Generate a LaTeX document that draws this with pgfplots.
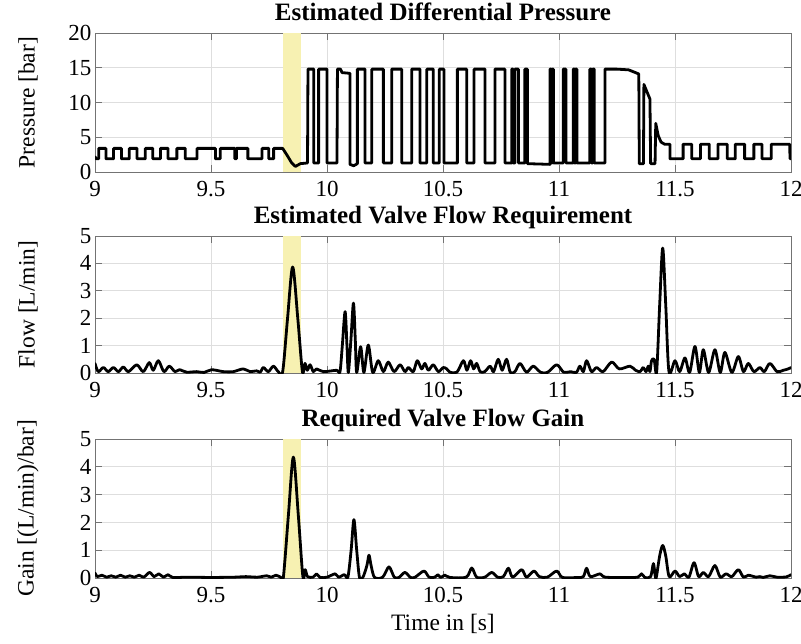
\documentclass[border=0pt]{standalone}
\usepackage{fontspec}
\setmainfont{Liberation Serif}
\usepackage{pgfplots}
\pgfplotsset{compat=1.18}
\definecolor{band}{RGB}{247,241,178}

\pgfplotsset{
  matax/.style={
    scale only axis, width=696pt,
    xmin=9, xmax=12,
    xtick={9,9.5,10,10.5,11,11.5,12},
    grid=major,
    major grid style={black!13, line width=0.8pt},
    axis line style={black!55, line width=0.9pt},
    tick style={black!55, line width=0.8pt},
    tick align=inside, major tick length=7pt,
    /pgf/number format/assume math mode=true,
    ticklabel style={font=\fontsize{23}{26}\selectfont},
    xticklabel style={yshift=-6pt},
    title style={font=\bfseries\fontsize{25}{28}\selectfont, at={(0.5,1)}, anchor=base, yshift=6.5pt},
    every axis y label/.style={at={(rel axis cs:0,0.5)}, xshift=-67pt, rotate=90, anchor=center,
      font=\fontsize{23.5}{26}\selectfont},
    every axis x label/.style={at={(rel axis cs:0.5,0)}, anchor=base, yshift=-52pt,
      font=\fontsize{23.5}{26}\selectfont},
  },
  sig/.style={black, line width=2.8pt, line join=round, line cap=round},
}

\begin{document}
\begin{tikzpicture}
\path[use as bounding box] (0,0) rectangle (801pt,-643pt);

% --- pressure ---
\begin{axis}[matax, at={(95pt,-172pt)}, anchor=south west, height=139pt,
  ymin=0, ymax=20, ytick={0,5,10,15,20},
  title={Estimated Differential Pressure}, ylabel={Pressure [bar]}]
\addplot[draw=none, fill=band, forget plot] coordinates {(9.81,0) (9.81,20) (9.89,20) (9.89,0)} --cycle;
\addplot[sig] coordinates {
(9.000,2.2)(9.005,1.9)(9.016,1.9)(9.016,3.4)(9.047,3.4)(9.047,1.9)(9.080,1.9)(9.080,3.4)
(9.114,3.4)(9.114,1.9)(9.148,1.9)(9.148,3.4)(9.181,3.4)(9.181,1.9)(9.217,1.9)(9.217,3.4)
(9.249,3.4)(9.249,1.9)(9.282,1.9)(9.282,3.4)(9.315,3.4)(9.315,1.9)(9.353,1.9)(9.353,3.4)
(9.389,3.4)(9.389,1.9)(9.440,1.9)(9.440,3.4)(9.519,3.4)(9.519,1.9)(9.540,1.9)(9.540,3.4)
(9.603,3.4)(9.603,1.9)(9.610,1.9)(9.610,3.4)(9.659,3.4)(9.659,1.9)(9.720,1.9)(9.720,3.4)
(9.749,3.4)(9.749,1.9)(9.770,1.9)(9.770,3.4)(9.809,3.4)(9.830,2.3)(9.848,1.3)(9.864,0.8)
(9.885,1.2)(9.916,1.3)(9.918,14.8)(9.943,14.8)(9.943,1.3)(9.964,1.3)(9.964,14.8)(10.000,14.8)
(10.000,1.3)(10.043,1.3)(10.045,14.8)(10.058,14.8)(10.065,14.3)(10.099,14.2)(10.099,1.1)(10.115,0.9)
(10.131,1.2)(10.131,14.8)(10.164,14.8)(10.164,1.3)(10.193,1.3)(10.193,14.8)(10.243,14.8)(10.243,1.3)
(10.279,1.3)(10.279,14.8)(10.322,14.8)(10.322,1.3)(10.365,1.3)(10.365,14.8)(10.401,14.8)(10.401,1.3)
(10.430,1.3)(10.430,14.8)(10.458,14.8)(10.458,1.3)(10.484,1.3)(10.484,14.8)(10.504,14.8)(10.504,1.3)
(10.562,1.3)(10.562,14.8)(10.602,14.8)(10.602,1.3)(10.634,1.3)(10.634,14.8)(10.681,14.8)(10.681,1.3)
(10.724,1.3)(10.724,14.8)(10.767,14.8)(10.767,1.3)(10.796,1.3)(10.796,14.8)(10.802,14.8)(10.802,1.3)
(10.810,1.3)(10.810,14.8)(10.825,14.8)(10.825,1.3)(10.853,1.3)(10.853,14.8)(10.864,14.8)(10.864,1.2)
(10.961,1.1)(10.961,14.8)(10.967,14.8)(10.967,1.3)(10.971,1.3)(10.971,14.8)(10.976,14.8)(10.976,1.3)
(11.018,1.3)(11.018,14.8)(11.030,14.8)(11.030,1.3)(11.061,1.3)(11.061,14.8)(11.067,14.8)(11.067,1.3)
(11.071,1.3)(11.071,14.8)(11.077,14.8)(11.077,1.3)(11.133,1.3)(11.133,14.8)(11.140,14.8)(11.140,1.3)
(11.145,1.3)(11.145,14.8)(11.152,14.8)(11.152,1.3)(11.198,1.3)(11.198,14.8)(11.250,14.8)(11.300,14.7)
(11.330,14.3)(11.344,14.1)(11.346,1.2)(11.364,1.2)(11.366,12.6)(11.392,10.5)(11.395,1.2)(11.414,1.2)
(11.417,7.0)(11.428,5.2)(11.440,4.3)(11.455,4.0)(11.478,4.0)(11.478,1.9)(11.535,1.9)(11.535,4.0)
(11.572,4.0)(11.572,1.9)(11.610,1.9)(11.610,4.0)(11.648,4.0)(11.648,1.9)(11.685,1.9)(11.685,4.0)
(11.725,4.0)(11.725,1.9)(11.760,1.9)(11.760,4.0)(11.800,4.0)(11.800,1.9)(11.840,1.9)(11.840,4.0)
(11.875,4.0)(11.875,1.9)(11.915,1.9)(11.915,4.0)(11.994,4.0)(11.996,1.9)(12.000,1.9)
};
\end{axis}

% --- flow ---
\begin{axis}[matax, at={(95pt,-373pt)}, anchor=south west, height=137pt,
  ymin=0, ymax=5, ytick={0,1,2,3,4,5},
  title={Estimated Valve Flow Requirement}, ylabel={Flow [L/min]}]
\addplot[draw=none, fill=band, forget plot] coordinates {(9.81,0) (9.81,5) (9.89,5) (9.89,0)} --cycle;
\addplot[sig, smooth, tension=0.5] coordinates {
(9.000,0.35)(9.014,0.05)(9.036,0.20)(9.057,0.05)(9.079,0.20)(9.101,0.05)(9.122,0.22)(9.144,0.05)
(9.180,0.30)(9.208,0.05)(9.234,0.38)(9.251,0.10)(9.273,0.45)(9.297,0.05)(9.320,0.25)(9.345,0.05)
(9.364,0.12)(9.395,0.03)(9.438,0.05)(9.470,0.02)(9.503,0.12)(9.553,0.05)(9.596,0.05)(9.639,0.15)
(9.668,0.05)(9.697,0.08)(9.712,0.03)(9.726,0.20)(9.747,0.05)(9.769,0.25)(9.790,0.05)(9.809,0.05)
(9.830,2.00)(9.852,3.87)(9.874,2.00)(9.894,0.05)(9.905,0.35)(9.915,0.10)(9.927,0.30)(9.941,0.05)
(9.955,0.15)(9.984,0.05)(10.042,0.10)(10.056,0.05)(10.066,1.00)(10.078,2.24)(10.086,1.00)(10.092,0.02)
(10.103,1.20)(10.114,2.55)(10.122,1.20)(10.128,0.02)(10.145,0.96)(10.159,0.02)(10.178,1.02)(10.197,0.02)
(10.221,0.45)(10.243,0.05)(10.264,0.40)(10.289,0.05)(10.315,0.30)(10.336,0.05)(10.351,0.20)(10.372,0.05)
(10.389,0.45)(10.408,0.15)(10.422,0.35)(10.437,0.10)(10.458,0.30)(10.480,0.05)(10.501,0.20)(10.516,0.15)
(10.530,0.03)(10.560,0.03)(10.588,0.45)(10.603,0.10)(10.619,0.45)(10.632,0.15)(10.645,0.35)(10.660,0.05)
(10.680,0.05)(10.703,0.25)(10.718,0.05)(10.738,0.50)(10.755,0.10)(10.774,0.50)(10.790,0.02)(10.810,0.05)
(10.832,0.35)(10.860,0.03)(10.889,0.25)(10.920,0.03)(10.950,0.02)(10.990,0.30)(11.020,0.03)(11.050,0.05)
(11.075,0.02)(11.090,0.25)(11.105,0.05)(11.119,0.45)(11.140,0.05)(11.162,0.20)(11.190,0.05)(11.227,0.40)
(11.260,0.15)(11.306,0.25)(11.330,0.10)(11.350,0.05)(11.363,0.20)(11.375,0.05)(11.385,0.25)(11.392,0.05)
(11.399,0.45)(11.410,0.50)(11.421,0.05)(11.434,2.50)(11.447,4.56)(11.460,2.50)(11.474,0.05)(11.500,0.45)
(11.520,0.05)(11.543,0.55)(11.563,0.02)(11.586,0.97)(11.605,0.02)(11.622,0.85)(11.645,0.02)(11.672,0.85)
(11.695,0.02)(11.715,0.75)(11.745,0.02)(11.773,0.60)(11.795,0.05)(11.816,0.35)(11.840,0.05)(11.866,0.20)
(11.885,0.05)(11.909,0.35)(11.940,0.05)(11.967,0.10)(11.988,0.15)(12.000,0.20)
};
\end{axis}

% --- gain ---
\begin{axis}[matax, at={(95pt,-578pt)}, anchor=south west, height=139pt,
  ymin=0, ymax=5, ytick={0,1,2,3,4,5},
  title={Required Valve Flow Gain}, ylabel={Gain [(L/min)/bar]}, xlabel={Time in [s]}]
\addplot[draw=none, fill=band, forget plot] coordinates {(9.81,0) (9.81,5) (9.89,5) (9.89,0)} --cycle;
\addplot[sig, smooth, tension=0.5] coordinates {
(9.000,0.18)(9.010,0.05)(9.030,0.10)(9.050,0.03)(9.070,0.08)(9.090,0.03)(9.110,0.10)(9.130,0.03)
(9.150,0.08)(9.170,0.03)(9.190,0.10)(9.210,0.03)(9.235,0.20)(9.255,0.05)(9.275,0.15)(9.295,0.03)
(9.315,0.12)(9.335,0.02)(9.400,0.03)(9.500,0.02)(9.600,0.03)(9.650,0.05)(9.700,0.03)(9.740,0.08)
(9.760,0.03)(9.780,0.10)(9.800,0.03)(9.812,0.03)(9.834,2.30)(9.855,4.35)(9.876,2.30)(9.896,0.05)
(9.906,0.30)(9.916,0.05)(9.940,0.03)(9.955,0.15)(9.970,0.02)(10.000,0.03)(10.035,0.15)(10.050,0.03)
(10.075,0.12)(10.090,0.03)(10.104,1.00)(10.116,2.10)(10.128,1.00)(10.140,0.02)(10.155,0.03)(10.172,0.45)
(10.181,0.82)(10.190,0.45)(10.205,0.02)(10.240,0.03)(10.267,0.40)(10.290,0.03)(10.310,0.02)(10.336,0.20)
(10.360,0.02)(10.380,0.03)(10.418,0.25)(10.440,0.03)(10.465,0.03)(10.478,0.12)(10.490,0.02)(10.508,0.10)
(10.530,0.02)(10.600,0.03)(10.624,0.36)(10.645,0.03)(10.680,0.03)(10.710,0.20)(10.735,0.03)(10.760,0.05)
(10.782,0.35)(10.800,0.03)(10.839,0.30)(10.860,0.03)(10.892,0.25)(10.915,0.05)(10.950,0.03)(10.990,0.25)
(11.015,0.02)(11.080,0.02)(11.105,0.05)(11.119,0.35)(11.135,0.05)(11.177,0.15)(11.200,0.03)(11.300,0.02)
(11.340,0.03)(11.356,0.15)(11.370,0.02)(11.395,0.05)(11.407,0.52)(11.415,0.05)(11.420,0.05)(11.434,0.80)
(11.447,1.17)(11.460,0.80)(11.475,0.05)(11.500,0.25)(11.520,0.05)(11.540,0.15)(11.560,0.03)(11.582,0.55)
(11.602,0.05)(11.622,0.20)(11.645,0.05)(11.672,0.45)(11.695,0.03)(11.720,0.15)(11.745,0.05)(11.773,0.30)
(11.795,0.03)(11.816,0.10)(11.850,0.03)(11.866,0.05)(11.880,0.02)(11.909,0.08)(11.940,0.03)(11.980,0.04)
(12.000,0.12)
};
\end{axis}
\end{tikzpicture}
\end{document}
